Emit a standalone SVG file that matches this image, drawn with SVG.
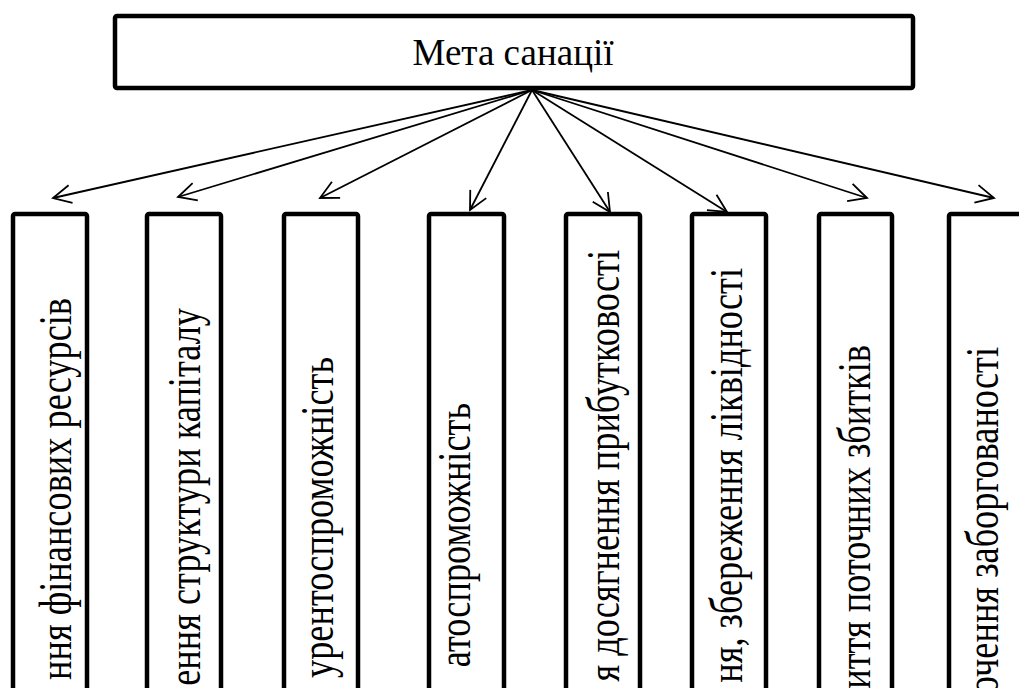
<svg xmlns="http://www.w3.org/2000/svg" width="1019" height="688" viewBox="0 0 1019 688">
<style>
.box{fill:#fff;stroke:#000;stroke-width:4.5;stroke-linejoin:round}
.t{font-family:"Liberation Serif","Times New Roman","DejaVu Serif",serif;fill:#000}
.vt{font-family:"Liberation Serif","Times New Roman","DejaVu Serif",serif;font-size:46px;fill:#000;text-anchor:end}
.c{stroke:#000;stroke-width:1.8;fill:none;marker-end:url(#ah)}
</style>
<defs>
<marker id="ah" markerUnits="userSpaceOnUse" viewBox="-22 -12 26 24" markerWidth="26" markerHeight="24" refX="0" refY="0" orient="auto" overflow="visible">
<path d="M-18,-9 L0,0 L-18,9" fill="none" stroke="#000" stroke-width="1.8"/>
</marker>
</defs>
<g id="root">
<rect class="box" x="115" y="16" width="798" height="72" rx="2"/>
<text class="t" x="513" y="65" font-size="37" text-anchor="middle">Мета санації</text>
</g>
<g id="connectors">
<line class="c" x1="532" y1="90" x2="53" y2="198"/>
<line class="c" x1="532" y1="90" x2="178" y2="197"/>
<line class="c" x1="532" y1="90" x2="320" y2="198"/>
<line class="c" x1="532" y1="90" x2="470" y2="210"/>
<line class="c" x1="532" y1="90" x2="610" y2="212"/>
<line class="c" x1="532" y1="90" x2="727" y2="212"/>
<line class="c" x1="532" y1="90" x2="867" y2="198"/>
<line class="c" x1="532" y1="90" x2="994" y2="198"/>
</g>
<g id="n1">
<rect class="box" x="13" y="214" width="74" height="600" rx="2"/>
<text class="vt" transform="translate(71,298) rotate(-90) scale(0.79,1)">ння фінансових ресурсів</text>
</g>
<g id="n2">
<rect class="box" x="147" y="214" width="74" height="600" rx="2"/>
<text class="vt" transform="translate(200,308) rotate(-90) scale(0.79,1)">ення структури капіталу</text>
</g>
<g id="n3">
<rect class="box" x="284" y="214" width="74" height="600" rx="2"/>
<text class="vt" transform="translate(333,357) rotate(-90) scale(0.79,1)">урентоспроможність</text>
</g>
<g id="n4">
<rect class="box" x="429" y="214" width="75" height="600" rx="2"/>
<text class="vt" transform="translate(470,403) rotate(-90) scale(0.79,1)">атоспроможність</text>
</g>
<g id="n5">
<rect class="box" x="566" y="214" width="74" height="600" rx="2"/>
<text class="vt" transform="translate(619,250) rotate(-90) scale(0.79,1)">я досягнення прибутковості</text>
</g>
<g id="n6">
<rect class="box" x="692" y="214" width="74" height="600" rx="2"/>
<text class="vt" transform="translate(742,268) rotate(-90) scale(0.79,1)">ня, збереження ліквідності</text>
</g>
<g id="n7">
<rect class="box" x="819" y="214" width="73" height="600" rx="2"/>
<text class="vt" transform="translate(870,345) rotate(-90) scale(0.79,1)">иття поточних збитків</text>
</g>
<g id="n8">
<rect class="box" x="949" y="214" width="74" height="600" rx="2"/>
<text class="vt" transform="translate(998,347) rotate(-90) scale(0.79,1)">очення заборгованості</text>
</g>
</svg>
